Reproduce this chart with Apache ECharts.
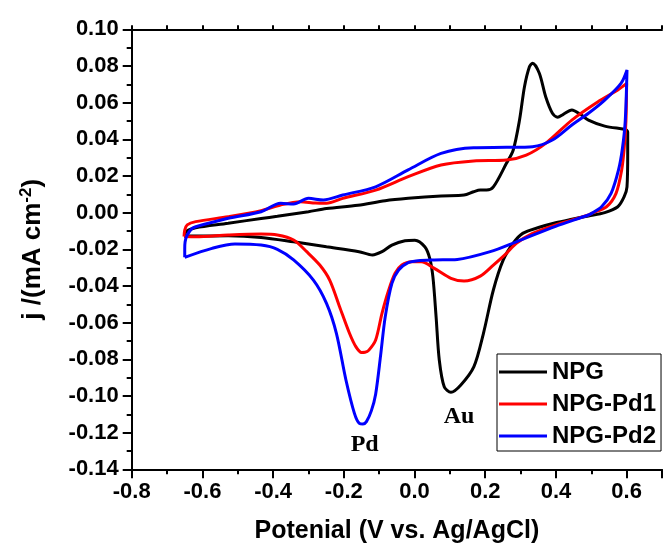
<!DOCTYPE html>
<html>
<head>
<meta charset="utf-8">
<script src="https://cdn.jsdelivr.net/npm/echarts@6/dist/echarts.min.js"></script>
<style>html,body{margin:0;padding:0;background:#fff;}#c{width:665px;height:551px;}</style>
</head>
<body>
<div id="c"></div>
<script>
// Potential (V vs. Ag/AgCl), current density j (mA cm^-2) — closed CV loops
const npg = [[-0.650,-0.0128],[-0.648,-0.0110],[-0.640,-0.0095],[-0.619,-0.0082],[-0.527,-0.0058],[-0.434,-0.0032],[-0.388,-0.0020],[-0.300,0.0005],[-0.249,0.0022],[-0.160,0.0040],[-0.083,0.0065],[-0.018,0.0078],[0.075,0.0091],[0.140,0.0096],[0.167,0.0114],[0.186,0.0123],[0.204,0.0123],[0.223,0.0140],[0.260,0.0269],[0.279,0.0340],[0.297,0.0505],[0.311,0.0687],[0.325,0.0796],[0.334,0.0815],[0.353,0.0760],[0.371,0.0632],[0.390,0.0542],[0.405,0.0520],[0.420,0.0535],[0.445,0.0560],[0.470,0.0535],[0.492,0.0505],[0.538,0.0472],[0.593,0.0455],[0.600,0.0450],[0.603,0.0440],[0.603,0.0324],[0.601,0.0141],[0.593,0.0087],[0.575,0.0032],[0.538,0.0000],[0.492,-0.0018],[0.445,-0.0036],[0.399,-0.0055],[0.353,-0.0080],[0.306,-0.0113],[0.279,-0.0167],[0.251,-0.0258],[0.223,-0.0422],[0.195,-0.0658],[0.168,-0.0840],[0.131,-0.0940],[0.103,-0.0980],[0.084,-0.0950],[0.070,-0.0804],[0.061,-0.0568],[0.052,-0.0350],[0.043,-0.0249],[0.029,-0.0186],[0.001,-0.0150],[-0.027,-0.0153],[-0.064,-0.0177],[-0.092,-0.0213],[-0.119,-0.0231],[-0.157,-0.0213],[-0.249,-0.0186],[-0.342,-0.0159],[-0.434,-0.0135],[-0.527,-0.0126],[-0.619,-0.0128],[-0.650,-0.0128]];
const npgPd1 = [[-0.652,-0.0130],[-0.650,-0.0095],[-0.643,-0.0067],[-0.619,-0.0049],[-0.527,-0.0022],[-0.434,0.0011],[-0.379,0.0042],[-0.323,0.0060],[-0.280,0.0052],[-0.249,0.0051],[-0.203,0.0078],[-0.110,0.0123],[-0.018,0.0196],[0.075,0.0260],[0.167,0.0282],[0.260,0.0287],[0.316,0.0314],[0.371,0.0378],[0.445,0.0505],[0.519,0.0605],[0.575,0.0669],[0.600,0.0705],[0.598,0.0500],[0.593,0.0350],[0.586,0.0233],[0.570,0.0105],[0.543,0.0032],[0.501,-0.0004],[0.492,-0.0013],[0.399,-0.0067],[0.334,-0.0113],[0.288,-0.0167],[0.260,-0.0222],[0.223,-0.0286],[0.186,-0.0346],[0.140,-0.0373],[0.103,-0.0358],[0.056,-0.0304],[0.019,-0.0268],[-0.008,-0.0268],[-0.036,-0.0286],[-0.055,-0.0331],[-0.073,-0.0422],[-0.092,-0.0549],[-0.110,-0.0695],[-0.129,-0.0750],[-0.140,-0.0762],[-0.150,-0.0763],[-0.166,-0.0731],[-0.184,-0.0658],[-0.212,-0.0513],[-0.240,-0.0368],[-0.268,-0.0286],[-0.305,-0.0213],[-0.342,-0.0149],[-0.388,-0.0122],[-0.434,-0.0117],[-0.527,-0.0122],[-0.619,-0.0131],[-0.652,-0.0130]];
const npgPd2 = [[-0.650,-0.0244],[-0.650,-0.0200],[-0.649,-0.0160],[-0.643,-0.0122],[-0.629,-0.0086],[-0.619,-0.0077],[-0.527,-0.0031],[-0.434,0.0005],[-0.379,0.0051],[-0.342,0.0047],[-0.300,0.0078],[-0.258,0.0069],[-0.203,0.0096],[-0.110,0.0141],[-0.018,0.0233],[0.075,0.0323],[0.167,0.0354],[0.260,0.0356],[0.334,0.0360],[0.390,0.0396],[0.445,0.0478],[0.492,0.0542],[0.538,0.0614],[0.584,0.0705],[0.601,0.0778],[0.596,0.0500],[0.588,0.0350],[0.577,0.0233],[0.556,0.0105],[0.529,0.0032],[0.501,-0.0004],[0.492,-0.0013],[0.399,-0.0075],[0.288,-0.0159],[0.214,-0.0213],[0.121,-0.0255],[0.056,-0.0258],[0.010,-0.0262],[-0.018,-0.0273],[-0.045,-0.0313],[-0.064,-0.0386],[-0.083,-0.0570],[-0.096,-0.0780],[-0.110,-0.0990],[-0.122,-0.1080],[-0.136,-0.1140],[-0.146,-0.1153],[-0.156,-0.1150],[-0.170,-0.1095],[-0.194,-0.0913],[-0.221,-0.0658],[-0.249,-0.0495],[-0.286,-0.0368],[-0.342,-0.0258],[-0.388,-0.0200],[-0.434,-0.0177],[-0.508,-0.0171],[-0.573,-0.0195],[-0.650,-0.0244]];
const seriesNames = ['NPG','NPG-Pd1','NPG-Pd2'];
const peakNames = ['Pd','Au'];
const peakPositions = [[-0.141,-0.1265],[0.126,-0.1112]];

const FONT = '"Liberation Sans", Arial, sans-serif';
const chart = echarts.init(document.getElementById('c'), null, {renderer:'canvas'});
const axisLineStyle = {show:true, onZero:false, lineStyle:{color:'#000', width:2}};
chart.setOption({
  backgroundColor:'#fff',
  animation:false,
  grid:{left:131.7, top:29.3, right:-6.7, bottom:81.7},
  legend:{
    data:seriesNames, orient:'vertical', left:497, top:354,
    padding:[6,5,3,2], itemGap:8, itemWidth:48, itemHeight:3, icon:'rect',
    borderColor:'#000', borderWidth:1, backgroundColor:'#fff',
    textStyle:{fontFamily:FONT, fontWeight:'bold', fontSize:24, color:'#000', lineHeight:24}
  },
  xAxis:[{
    type:'value', min:-0.8, max:0.7, interval:0.2, position:'bottom',
    axisLine:axisLineStyle, splitLine:{show:false},
    name:'Potenial (V vs. Ag/AgCl)', nameLocation:'middle', nameGap:49,
    nameTextStyle:{fontFamily:FONT, fontWeight:'bold', fontSize:25, color:'#000'},
    axisTick:{show:true, inside:false, length:9, lineStyle:{color:'#000', width:2}},
    minorTick:{show:true, splitNumber:2, length:5, lineStyle:{color:'#000', width:2}},
    axisLabel:{fontFamily:FONT, fontWeight:'bold', fontSize:22, color:'#000', margin:12,
      formatter:v => v > 0.65 ? '' : v.toFixed(1)}
  }, {
    type:'value', min:-0.8, max:0.7, interval:0.2, position:'top',
    axisLine:axisLineStyle, splitLine:{show:false},
    axisTick:{show:true, inside:false, length:4, lineStyle:{color:'#000', width:2}},
    minorTick:{show:true, splitNumber:2, length:4, lineStyle:{color:'#000', width:2}},
    axisLabel:{show:false}
  }],
  yAxis:[{
    type:'value', min:-0.14, max:0.10, interval:0.02, position:'left',
    axisLine:axisLineStyle, splitLine:{show:false},
    name:'j /(mA cm{sup|-2})', nameLocation:'middle', nameGap:84, nameRotate:90,
    nameTextStyle:{fontFamily:FONT, fontWeight:'bold', fontSize:26, color:'#000',
      rich:{sup:{fontFamily:FONT, fontWeight:'bold', fontSize:17, color:'#000', verticalAlign:'top', padding:[0,0,13,0]}}},
    axisTick:{show:true, inside:false, length:9, lineStyle:{color:'#000', width:2}},
    minorTick:{show:true, splitNumber:2, length:5, lineStyle:{color:'#000', width:2}},
    axisLabel:{fontFamily:FONT, fontWeight:'bold', fontSize:22, color:'#000', margin:13,
      formatter:v => v.toFixed(2)}
  }],
  series:[
    {name:seriesNames[0], type:'line', data:npg, symbol:'none', smooth:0.3, lineStyle:{color:'#000', width:3}, itemStyle:{color:'#000'}},
    {name:seriesNames[1], type:'line', data:npgPd1, symbol:'none', smooth:0.3, lineStyle:{color:'#ff0000', width:3}, itemStyle:{color:'#ff0000'}},
    {name:seriesNames[2], type:'line', data:npgPd2, symbol:'none', smooth:0.3, lineStyle:{color:'#0000ff', width:3}, itemStyle:{color:'#0000ff'}},
    {name:'peaks', type:'scatter', symbolSize:0, silent:true, itemStyle:{opacity:1, color:'#000'},
      data:peakPositions.map((p,i)=>({value:p, name:peakNames[i]})),
      label:{show:true, position:'inside', formatter:p=>p.name, opacity:1,
        fontFamily:'"Liberation Serif", "Times New Roman", serif', fontWeight:'bold', fontSize:24, color:'#000'}}
  ]
});
</script>
</body>
</html>
